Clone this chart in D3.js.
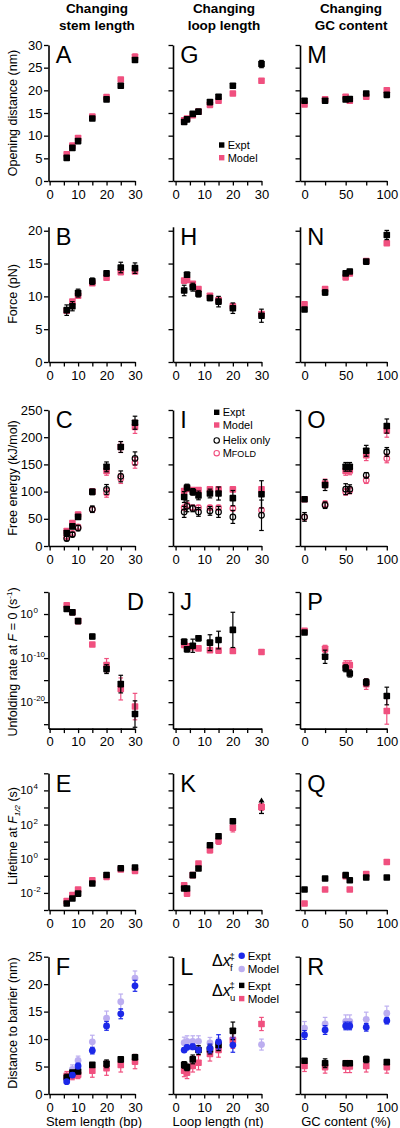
<!DOCTYPE html>
<html><head><meta charset="utf-8">
<script src="https://cdn.jsdelivr.net/npm/d3@7/dist/d3.min.js"></script>
<style>body{margin:0;background:#fff}svg{display:block}text{font-family:"Liberation Sans",Arial,Helvetica,sans-serif;fill:#000}</style>
</head><body><svg id="c" width="400" height="1128"></svg>
<script>
// ---------- categories / x values ----------
const stemX = [6, 8, 10, 15, 20, 25, 30];
const loopX = [3, 4, 6, 8, 12, 15, 20, 30];
const gcX = [0, 25, 50, 55, 75, 100];
// ---------- tick labels ----------
const stemTicks = [0, 10, 20, 30], stemMinor = [5, 15, 25];
const loopTicks = [0, 10, 20, 30], loopMinor = [5, 15, 25];
const gcTicks = [0, 50, 100], gcMinor = [25, 75];
const openTicks = [0, 5, 10, 15, 20, 25, 30];
const forceTicks = [0, 5, 10, 15, 20];
const energyTicks = [0, 50, 100, 150, 200, 250];
const rateTickExp = [5, 0, -5, -10, -15, -20, -25], rateLabelExp = [0, -10, -20];
const lifeTickExp = [5, 4, 3, 2, 1, 0, -1, -2, -3], lifeLabelExp = [4, 2, 0, -2];
const distTicks = [0, 5, 10, 15, 20, 25];
const colTitles = [["Changing", "stem length"], ["Changing", "loop length"], ["Changing", "GC content"]];
const xTitles = ["Stem length (bp)", "Loop length (nt)", "GC content (%)"];
const letters = [["A","G","M"],["B","H","N"],["C","I","O"],["D","J","P"],["E","K","Q"],["F","L","R"]];

// ---------- Opening distance (nm) ----------
const openStemExpt = [5.1, 7.3, 8.8, 13.8, 18.0, 21.0, 26.7];
const openStemExptErr = [0.3, 0.3, 0.3, 0.3, 0.3, 0.3, 0.5];
const openStemModel = [5.9, 7.8, 9.5, 14.2, 18.5, 22.4, 27.4];
const openStemModelErr = [0.2, 0.2, 0.3, 0.2, 0.3, 0.4, 0.6];
const openLoopExpt = [13.0, 13.6, 14.8, 15.3, 17.4, 18.6, 21.0, 25.8];
const openLoopExptErr = [0.3, 0.3, 0.3, 0.2, 0.3, 0.4, 0.4, 0.8];
const openLoopModel = [13.4, 13.8, 14.5, 15.3, 16.8, 17.7, 19.3, 22.1];
const openLoopModelErr = [0.2, 0.2, 0.2, 0.2, 0.3, 0.3, 0.4, 0.4];
const openGcExpt = [17.7, 17.7, 18.0, 18.1, 19.3, 19.0];
const openGcExptErr = [0.3, 0.3, 0.3, 0.3, 0.3, 0.3];
const openGcModel = [16.9, 18.0, 18.6, 17.7, 18.6, 20.0];
const openGcModelErr = [0.2, 0.2, 0.2, 0.2, 0.2, 0.3];
// ---------- Force (pN) ----------
const forceStemExpt = [7.9, 8.5, 10.5, 12.3, 13.5, 14.4, 14.3];
const forceStemExptErr = [0.8, 0.7, 0.6, 0.5, 0.4, 0.8, 0.8];
const forceStemModel = [7.8, 9.2, 10.1, 12.0, 12.85, 13.7, 13.8];
const forceStemModelErr = [0.3, 0.3, 0.3, 0.3, 0.3, 0.3, 0.3];
const forceLoopExpt = [10.9, 13.3, 11.4, 10.4, 9.75, 9.2, 8.2, 7.05];
const forceLoopExptErr = [0.8, 0.4, 0.6, 0.5, 0.4, 0.8, 0.8, 1.0];
const forceLoopModel = [12.4, 12.5, 11.9, 11.1, 10.1, 9.45, 8.5, 7.3];
const forceLoopModelErr = [0.3, 0.3, 0.3, 0.3, 0.3, 0.3, 0.3, 0.3];
const forceGcExpt = [8.0, 10.6, 13.5, 13.8, 15.3, 19.35];
const forceGcExptErr = [0.3, 0.4, 0.3, 0.3, 0.3, 0.7];
const forceGcModel = [8.8, 11.1, 12.9, 13.5, 15.4, 18.1];
const forceGcModelErr = [0.3, 0.3, 0.3, 0.3, 0.3, 0.3];
// ---------- Free energy (kJ/mol) ----------
const energyStemExpt = [24, 36, 53.5, 99.5, 145.5, 182, 226.6];
const energyStemExptErr = [3, 4, 4, 5, 9, 10, 12];
const energyStemModel = [27.6, 42, 57.8, 100, 138, 182, 219];
const energyStemModelErr = [3, 4, 4, 5, 8, 10, 12];
const helixStem = [13.6, 21, 33, 67.6, 104, 128, 161];
const helixStemErr = [4, 4, 5, 6, 9, 10, 12];
const mfoldStem = [17, 23, 35, 67, 97.6, 124, 153];
const mfoldStemErr = [3, 3, 4, 5, 8, 9, 10];
const energyLoopExpt = [90, 107.6, 99.5, 93, 96.5, 96.5, 88, 95];
const energyLoopExptErr = [10, 6, 6, 8, 8, 12, 14, 25];
const energyLoopModel = [101, 105, 103, 103, 104, 104, 104, 104];
const energyLoopModelErr = [4, 4, 4, 4, 4, 4, 4, 4];
const helixLoop = [62.6, 73, 69, 62.6, 64.5, 62.6, 53.5, 56.5];
const helixLoopErr = [10, 10, 6, 8, 8, 10, 12, 28];
const mfoldLoop = [70.7, 75, 70.7, 70.7, 70.7, 70.7, 69, 66];
const mfoldLoopErr = [4, 4, 4, 4, 4, 4, 4, 4];
const energyGcExpt = [86, 112, 145.5, 145.5, 175, 220.5];
const energyGcExptErr = [4, 10, 8, 8, 10, 13];
const energyGcModel = [86, 115, 138, 139, 167, 212];
const energyGcModelErr = [4, 8, 8, 8, 10, 12];
const helixGc = [53.5, 75, 104.5, 104.5, 130, 173];
const helixGcErr = [8, 6, 10, 8, 5, 8];
const mfoldGc = [53, 77, 99.5, 102, 121, 161];
const mfoldGcErr = [5, 6, 6, 6, 6, 8];
// ---------- Unfolding rate at F=0 (log10 s^-1) ----------
const rateStemExpt = [1.13, 0.38, -1.6, -5.1, -12.5, -15.9, -22.7];
const rateStemExptErr = [0, 0, 0, 0.5, 1, 2, 3];
const rateStemModel = [2.0, 0.4, -1.6, -6.9, -11.6, -17.0, -21.0];
const rateStemModelErr = [0, 0, 0, 0.4, 1.5, 2.5, 3];
const rateLoopExpt = [-6.3, -8.0, -7.2, -5.5, -6.5, -5.9, -3.6, null];
const rateLoopExptErr = [0.6, 0.6, 1.5, 0.6, 1.8, 2, 4, 0];
const rateLoopModel = [-7.0, -7.3, -7.5, -7.8, -8.2, -8.3, -8.4, -8.6];
const rateLoopModelErr = [0.3, 0.3, 0.3, 0.3, 0.3, 0.3, 0.3, 0.3];
const rateGcExpt = [-4.2, -9.7, -12.3, -13.5, -15.5, -18.6];
const rateGcExptErr = [0.3, 1.5, 0.8, 0.8, 0.8, 2];
const rateGcModel = [-3.8, -7.9, -11.6, -11.6, -15.9, -22.0];
const rateGcModelErr = [0.3, 0.8, 1.0, 1.0, 1.2, 3];
// ---------- Lifetime at F1/2 (log10 s) ----------
const lifeStemExpt = [-2.62, -2.33, -2.04, -1.45, -0.95, -0.56, -0.51];
const lifeStemModel = [-2.47, -2.13, -1.8, -1.26, -1.06, -0.63, -0.71];
const lifeLoopExpt = [-1.74, -1.74, -0.96, -0.57, 0.79, 1.32, 2.19, null];
const lifeLoopModel = [-1.55, -2.04, -0.96, -0.28, 0.5, 1.04, 1.82, 3.03];
const lifeLoopModelErr = [0.1, 0.1, 0.1, 0.1, 0.15, 0.2, 0.25, 0.2];
const lifeLoopLowerBound = [null, null, null, null, null, null, null, 2.65];
const lifeGcExpt = [-1.8, -1.16, -0.96, -1.26, -1.1, -1.1];
const lifeGcModel = [-2.62, -1.8, -1.02, -1.8, -0.9, -0.19];
// ---------- Distance to barrier (nm) ----------
const dfStemExpt = [2.25, 3.45, 5.1, 7.9, 12.4, 14.6, 19.7];
const dfStemExptErr = [0.3, 0.4, 0.5, 0.6, 0.8, 0.9, 1.0];
const dfStemModel = [2.8, 4.5, 6.1, 9.5, 13.8, 16.8, 21.1];
const dfStemModelErr = [0.5, 0.8, 0.8, 1.2, 1.3, 1.4, 1.3];
const duStemExpt = [3.0, 3.9, 4.1, 5.3, 5.5, 6.3, 6.7];
const duStemExptErr = [0.6, 0.4, 0.4, 0.4, 0.7, 0.5, 0.5];
const duStemModel = [3.3, 3.3, 3.5, 4.25, 4.7, 5.3, 5.9];
const duStemModelErr = [0.8, 0.7, 0.7, 1.2, 1.3, 1.3, 1.3];
const dfLoopExpt = [8.0, 8.5, 8.6, 8.0, 8.3, 9.5, 8.9, null];
const dfLoopExptErr = [0.4, 0.4, 0.5, 0.5, 0.8, 1.3, 1.3, 0];
const dfLoopModel = [9.35, 9.6, 9.6, 9.6, 9.3, 9.2, 10.1, 9.0];
const dfLoopModelErr = [1, 1, 1, 1, 1, 1, 1, 1];
const duLoopExpt = [5.3, 4.85, 6.3, 8.0, 8.1, 8.9, 11.5, null];
const duLoopExptErr = [0.6, 0.6, 0.8, 0.8, 0.8, 1.0, 1.6, 0];
const duLoopModel = [4.25, 3.9, 5.1, 5.7, 7.3, 8.0, 9.8, 12.75];
const duLoopModelErr = [1.1, 1.1, 1.1, 1.3, 1.3, 1.3, 1.5, 1.2];
const dfGcExpt = [10.75, 11.65, 12.4, 12.4, 12.15, 13.35];
const dfGcExptErr = [0.8, 0.8, 0.7, 0.7, 0.7, 0.6];
const dfGcModel = [12.0, 12.75, 13.2, 13.2, 13.6, 14.7];
const dfGcModelErr = [1.2, 1.2, 1.2, 1.2, 1.3, 1.3];
const duGcExpt = [6.05, 5.6, 5.6, 5.6, 6.3, 5.8];
const duGcExptErr = [0.4, 0.8, 0.4, 0.4, 0.6, 0.3];
const duGcModel = [5.1, 4.9, 5.0, 5.0, 5.1, 4.9];
const duGcModelErr = [1.0, 1.1, 1.1, 1.1, 1.1, 1.1];

// ---------- styles ----------
const PINK = "#f0507f", BLUE = "#1c28e8", LAV = "#bcaef0", BLACK = "#000";
const svg = d3.select("#c");

const cols = [
  {r0: 48.5, r1: 135, dom: [-0.4, 30], ticks: stemTicks, minor: stemMinor, xs: stemX, tc: 97, xc: 94},
  {r0: 173, r1: 261.5, dom: [-0.9, 30], ticks: loopTicks, minor: loopMinor, xs: loopX, tc: 224, xc: 218},
  {r0: 300, r1: 386.8, dom: [-5.5, 100], ticks: gcTicks, minor: gcMinor, xs: gcX, tc: 351, xc: 346}
];
const rows = [
  {top: 45, bot: 181, dom: [0, 30], ticks: openTicks},
  {top: 226.8, bot: 362, dom: [0, 20.6], ticks: forceTicks},
  {top: 410, bot: 546, dom: [0, 250], ticks: energyTicks},
  {top: 592, bot: 728.6, log: true, dom: [1e-26, 1e5], tickExp: rateTickExp, labelExp: rateLabelExp},
  {top: 773.3, bot: 910, log: true, dom: [1e-3, 1e5], tickExp: lifeTickExp, labelExp: lifeLabelExp},
  {top: 956.7, bot: 1094, dom: [0, 25], ticks: distTicks}
];

// series table: [row][col] -> list of series
const S = (y, e, kind, color) => ({y, e, kind, color});
const table = [
  [[S(openStemModel, openStemModelErr, "sq", PINK), S(openStemExpt, openStemExptErr, "sq", BLACK)],
   [S(openLoopModel, openLoopModelErr, "sq", PINK), S(openLoopExpt, openLoopExptErr, "sq", BLACK)],
   [S(openGcModel, openGcModelErr, "sq", PINK), S(openGcExpt, openGcExptErr, "sq", BLACK)]],
  [[S(forceStemModel, forceStemModelErr, "sq", PINK), S(forceStemExpt, forceStemExptErr, "sq", BLACK)],
   [S(forceLoopModel, forceLoopModelErr, "sq", PINK), S(forceLoopExpt, forceLoopExptErr, "sq", BLACK)],
   [S(forceGcModel, forceGcModelErr, "sq", PINK), S(forceGcExpt, forceGcExptErr, "sq", BLACK)]],
  [[S(mfoldStem, mfoldStemErr, "open", PINK), S(helixStem, helixStemErr, "open", BLACK), S(energyStemModel, energyStemModelErr, "sq", PINK), S(energyStemExpt, energyStemExptErr, "sq", BLACK)],
   [S(mfoldLoop, mfoldLoopErr, "open", PINK), S(helixLoop, helixLoopErr, "open", BLACK), S(energyLoopModel, energyLoopModelErr, "sq", PINK), S(energyLoopExpt, energyLoopExptErr, "sq", BLACK)],
   [S(mfoldGc, mfoldGcErr, "open", PINK), S(helixGc, helixGcErr, "open", BLACK), S(energyGcModel, energyGcModelErr, "sq", PINK), S(energyGcExpt, energyGcExptErr, "sq", BLACK)]],
  [[S(rateStemModel, rateStemModelErr, "sq", PINK), S(rateStemExpt, rateStemExptErr, "sq", BLACK)],
   [S(rateLoopModel, rateLoopModelErr, "sq", PINK), S(rateLoopExpt, rateLoopExptErr, "sq", BLACK)],
   [S(rateGcModel, rateGcModelErr, "sq", PINK), S(rateGcExpt, rateGcExptErr, "sq", BLACK)]],
  [[S(lifeStemModel, null, "sq", PINK), S(lifeStemExpt, null, "sq", BLACK)],
   [S(lifeLoopModel, lifeLoopModelErr, "sq", PINK), S(lifeLoopExpt, null, "sq", BLACK)],
   [S(lifeGcModel, null, "sq", PINK), S(lifeGcExpt, null, "sq", BLACK)]],
  [[S(dfStemModel, dfStemModelErr, "dot", LAV), S(duStemModel, duStemModelErr, "sq", PINK), S(duStemExpt, duStemExptErr, "sq", BLACK), S(dfStemExpt, dfStemExptErr, "dot", BLUE)],
   [S(dfLoopModel, dfLoopModelErr, "dot", LAV), S(duLoopModel, duLoopModelErr, "sq", PINK), S(duLoopExpt, duLoopExptErr, "sq", BLACK), S(dfLoopExpt, dfLoopExptErr, "dot", BLUE)],
   [S(dfGcModel, dfGcModelErr, "dot", LAV), S(duGcModel, duGcModelErr, "sq", PINK), S(duGcExpt, duGcExptErr, "sq", BLACK), S(dfGcExpt, dfGcExptErr, "dot", BLUE)]]
];

const yTitles = [
  {c: 113, parts: [["Opening distance (nm)"]]},
  {c: 294, parts: [["Force (pN)"]]},
  {c: 478, parts: [["Free energy (kJ/mol)"]]},
  {c: 662, parts: [["Unfolding rate at "], ["F", "i"], [" = 0 (s"], ["-1", "sup"], [")"]]},
  {c: 836, parts: [["Lifetime at "], ["F", "i"], ["1/2", "sub"], [" (s)"]]},
  {c: 1023, parts: [["Distance to barrier (nm)"]]}
];

// column titles
cols.forEach((c, ci) => {
  colTitles[ci].forEach((t, k) => svg.append("text").attr("x", c.tc).attr("y", 13 + k * 16.5)
    .attr("text-anchor", "middle").attr("font-size", 13.5).attr("font-weight", "bold").text(t));
});

rows.forEach((row, ri) => {
  // y title
  const yt = yTitles[ri];
  const tt = svg.append("text").attr("transform", `translate(17,${yt.c}) rotate(-90)`)
    .attr("text-anchor", "middle").attr("font-size", 12.5);
  yt.parts.forEach((p, pi) => {
    const ts = tt.append("tspan").text(p[0]);
    if (p[1] === "i") ts.attr("font-style", "italic");
    if (p[1] === "sup") ts.attr("font-size", 8).attr("dy", -5);
    if (p[1] === "sub") ts.attr("font-size", 8).attr("dy", 3).attr("font-style", "italic");
    if (p[1] === undefined && pi > 0) {
      const prev = yt.parts[pi - 1];
      if (prev[1] === "sup") ts.attr("dy", 5);
      if (prev[1] === "sub") ts.attr("dy", -3);
    }
  });

  cols.forEach((col, ci) => {
    const g = svg.append("g");
    const x = d3.scaleLinear().domain(col.dom).range([col.r0, col.r1]);
    const y = row.log ? d3.scaleLog().domain(row.dom).range([row.bot, row.top])
                      : d3.scaleLinear().domain(row.dom).range([row.bot, row.top]);
    const yv = v => row.log ? y(Math.pow(10, v)) : y(v);

    // x axis
    const xa = g.append("g").attr("transform", `translate(0,${row.bot})`)
      .call(d3.axisBottom(x).tickValues(col.ticks.concat(col.minor)).tickSizeInner(4.5).tickSizeOuter(0)
        .tickPadding(2).tickFormat(d => col.ticks.includes(d) ? d : ""));
    // y axis
    let ya;
    if (row.log) {
      ya = g.append("g").attr("transform", `translate(${col.r0},0)`)
        .call(d3.axisLeft(y).tickValues(row.tickExp.map(e => Math.pow(10, e))).tickSizeInner(4.5).tickSizeOuter(0).tickFormat(""));
      if (ci === 0) {
        row.labelExp.forEach(e => {
          const yy = yv(e);
          g.append("text").attr("x", col.r0 - 15.5).attr("y", yy + 4).attr("text-anchor", "end").attr("font-size", 11.5).text("10");
          g.append("text").attr("x", col.r0 - 15).attr("y", yy - 1).attr("text-anchor", "start").attr("font-size", 8).text(e);
        });
      }
    } else {
      ya = g.append("g").attr("transform", `translate(${col.r0},0)`)
        .call(d3.axisLeft(y).tickValues(row.ticks).tickSizeInner(4.5).tickSizeOuter(0).tickPadding(1.5)
          .tickFormat(d => ci === 0 ? d : ""));
    }
    [xa, ya].forEach(a => {
      a.select(".domain").attr("stroke", "#000").attr("stroke-width", 1.6);
      a.selectAll(".tick line").attr("stroke", "#000").attr("stroke-width", 1.3);
      a.selectAll(".tick text").attr("font-size", 13).attr("font-family", '"Liberation Sans",Arial,sans-serif').attr("fill", "#000");
    });
    xa.selectAll(".tick text").attr("dy", "0.85em");

    // panel letter
    const L = letters[ri][ci];
    const lt = g.append("text").attr("font-size", 23.5).attr("y", row.top + 18.3).text(L);
    if (L === "D") lt.attr("x", col.r1 + 9).attr("text-anchor", "end");
    else lt.attr("x", col.r0 + 7.3);

    // series
    table[ri][ci].forEach(s => {
      col.xs.forEach((xv, i) => {
        const v = s.y[i];
        if (v === null || v === undefined) return;
        const cx = x(xv), cy = yv(v);
        const e = s.e ? s.e[i] : 0;
        if (e > 0) {
          const y1 = yv(v - e), y2 = yv(v + e);
          g.append("line").attr("x1", cx).attr("x2", cx).attr("y1", y1).attr("y2", y2).attr("stroke", s.color).attr("stroke-width", 1.2);
          [y1, y2].forEach(yy => g.append("line").attr("x1", cx - 2.3).attr("x2", cx + 2.3).attr("y1", yy).attr("y2", yy).attr("stroke", s.color).attr("stroke-width", 1.2));
        }
        if (s.kind === "sq") {
          g.append("rect").attr("x", cx - 3.3).attr("y", cy - 3.3).attr("width", 6.6).attr("height", 6.6).attr("rx", 0.8).attr("fill", s.color);
        } else if (s.kind === "dot") {
          g.append("circle").attr("cx", cx).attr("cy", cy).attr("r", 3.4).attr("fill", s.color);
        } else {
          g.append("circle").attr("cx", cx).attr("cy", cy).attr("r", 2.8).attr("fill", "none").attr("stroke", s.color).attr("stroke-width", 1.2);
        }
      });
    });

    // lower-bound arrow (panel K)
    if (ri === 4 && ci === 1) {
      loopX.forEach((xv, i) => {
        const lb = lifeLoopLowerBound[i];
        if (lb === null) return;
        const cx = x(xv), yb = yv(lb), yt2 = yb - 15;
        g.append("line").attr("x1", cx).attr("x2", cx).attr("y1", yb).attr("y2", yt2 + 3).attr("stroke", "#000").attr("stroke-width", 1.3);
        g.append("line").attr("x1", cx - 2.5).attr("x2", cx + 2.5).attr("y1", yb).attr("y2", yb).attr("stroke", "#000").attr("stroke-width", 1.3);
        g.append("path").attr("d", `M${cx - 3},${yt2 + 4} L${cx},${yt2 - 1} L${cx + 3},${yt2 + 4} Z`).attr("fill", "#000");
        const mv = lifeLoopModel[i];
        g.append("rect").attr("x", cx - 3.3).attr("y", yv(mv) - 3.3).attr("width", 6.6).attr("height", 6.6).attr("rx", 0.8).attr("fill", PINK);
      });
    }

    if (ri === 5) {
      svg.append("text").attr("x", col.xc).attr("y", 1126).attr("text-anchor", "middle").attr("font-size", 13).text(xTitles[ci]);
    }
  });
});

// ---------- legends ----------
function legendItem(x, y, kind, color, label, fs) {
  if (kind === "sq") svg.append("rect").attr("x", x - 2.7).attr("y", y - 2.7).attr("width", 5.4).attr("height", 5.4).attr("fill", color);
  else if (kind === "dot") svg.append("circle").attr("cx", x).attr("cy", y).attr("r", 3.2).attr("fill", color);
  else svg.append("circle").attr("cx", x).attr("cy", y).attr("r", 2.7).attr("fill", "none").attr("stroke", color).attr("stroke-width", 1.1);
  const t = svg.append("text").attr("x", x + 6).attr("y", y + fs * 0.36).attr("font-size", fs);
  if (label === "MFOLD") {
    t.append("tspan").text("M");
    t.append("tspan").attr("font-size", fs * 0.82).text("FOLD");
  } else t.text(label);
}
legendItem(221.7, 145, "sq", BLACK, "Expt", 11);
legendItem(221.7, 157.7, "sq", PINK, "Model", 11);
legendItem(216.7, 412.3, "sq", BLACK, "Expt", 11);
legendItem(216.7, 425, "sq", PINK, "Model", 11);
legendItem(216.7, 440.5, "open", BLACK, "Helix only", 11);
legendItem(216.7, 453.2, "open", PINK, "MFOLD", 11);
legendItem(241.7, 955.8, "dot", BLUE, "Expt", 11.5);
legendItem(241.7, 969, "dot", LAV, "Model", 11.5);
legendItem(241.7, 985.4, "sq", BLACK, "Expt", 11.5);
legendItem(241.7, 998.6, "sq", PINK, "Model", 11.5);
function dxLabel(y, sub) {
  const t = svg.append("text").attr("x", 212).attr("y", y).attr("font-size", 16).attr("font-family", '"Liberation Serif","Times New Roman",serif');
  t.append("tspan").text("\u0394");
  t.append("tspan").attr("font-style", "italic").text("x");
  svg.append("text").attr("x", 229.5).attr("y", y - 6.5).attr("font-size", 9.5).attr("font-family", '"Liberation Serif",serif').text("\u2021");
  svg.append("text").attr("x", 230).attr("y", y + 5).attr("font-size", 9.5).attr("font-family", '"Liberation Serif",serif').text(sub);
}
dxLabel(966, "f");
dxLabel(995.5, "u");
</script></body></html>
